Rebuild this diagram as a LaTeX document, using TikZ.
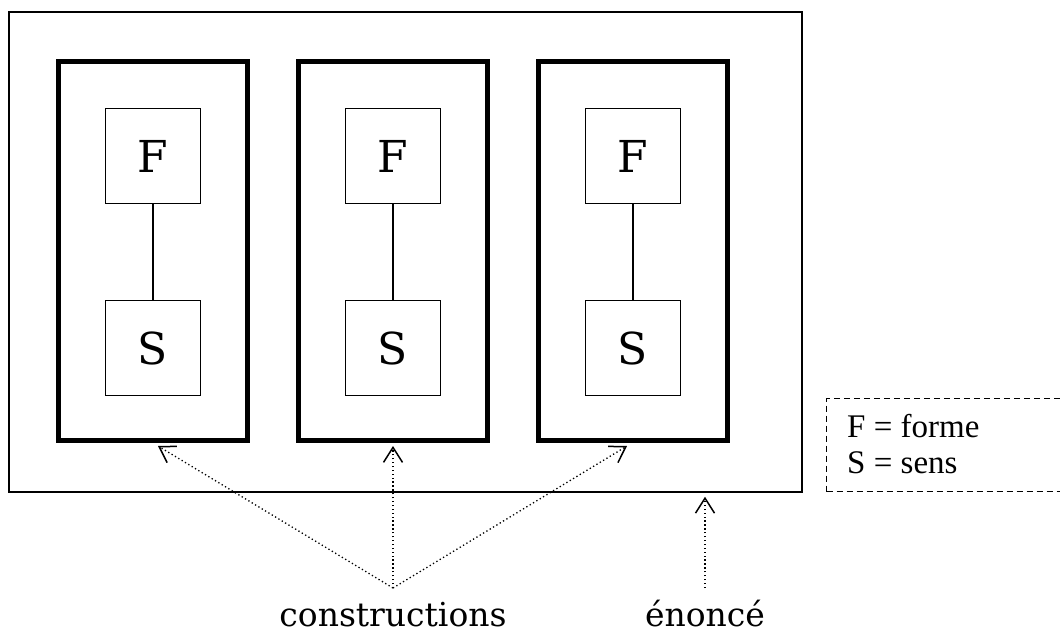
\documentclass[tikz,border=0pt]{standalone}
\usepackage{fontspec}
\setmainfont{DejaVu Serif}
\newfontfamily\legendfont{Liberation Serif}
\usetikzlibrary{arrows.meta,calc}
\tikzset{
  outerbox/.style={draw, line width=1.5pt, minimum width=793pt, minimum height=480pt, inner sep=0pt},
  consbox/.style={draw, line width=5pt, minimum width=189pt, minimum height=379pt, inner sep=0pt},
  fsbox/.style={draw, line width=1.5pt, minimum width=95pt, minimum height=95pt, inner sep=0pt, font=\fontsize{44}{50}\selectfont},
  link/.style={line width=1.5pt},
  ptr/.style={line width=1.3pt, dash pattern=on 1.3pt off 2.6pt, -{Straight Barb[length=15pt,width=19pt,line width=1.5pt]}},
  lbl/.style={font=\fontsize{33}{38}\selectfont, inner sep=0pt},
  legbox/.style={draw, dashed, line width=1.5pt, dash pattern=on 6pt off 4pt},
  legtxt/.style={font=\legendfont\fontsize{33}{36}\selectfont, inner sep=0pt, anchor=base west}
}
\begin{document}
\begin{tikzpicture}[x=1pt,y=-1pt]
\clip (0,0) rectangle (1060,634);
\fill[white] (0,0) rectangle (1060,634);
\node[outerbox] (enonce) at (405.5,252) {};
\foreach \i/\x in {1/153,2/393,3/633}{
  \node[consbox] (c\i) at (\x,251) {};
  \node[fsbox] (f\i) at (\x,156) {F};
  \node[fsbox] (s\i) at (\x,348) {S};
  \draw[link] (f\i.south) -- (s\i.north);
}
\node[lbl, anchor=base] (cons) at (393,626) {constructions};
\node[lbl, anchor=base] (enlbl) at (705,626) {énoncé};
\coordinate (conv) at (393,588);
\coordinate (econv) at (705,588);
\draw[ptr] (conv) -- ([xshift=5pt,yshift=-3pt]c1.south);
\draw[ptr] (conv) -- ([yshift=-3pt]c2.south);
\draw[ptr] (conv) -- ([xshift=-6pt,yshift=-3pt]c3.south);
\draw[ptr] (econv) -- ([yshift=-4pt]enonce.south -| econv);
\node[legbox, minimum width=260pt, minimum height=93pt, anchor=north west] (legend) at (825.75,397.75) {};
\node[legtxt] (legF) at (847,437) {F = forme};
\node[legtxt] (legS) at (847,473) {S = sens};
\end{tikzpicture}
\end{document}
